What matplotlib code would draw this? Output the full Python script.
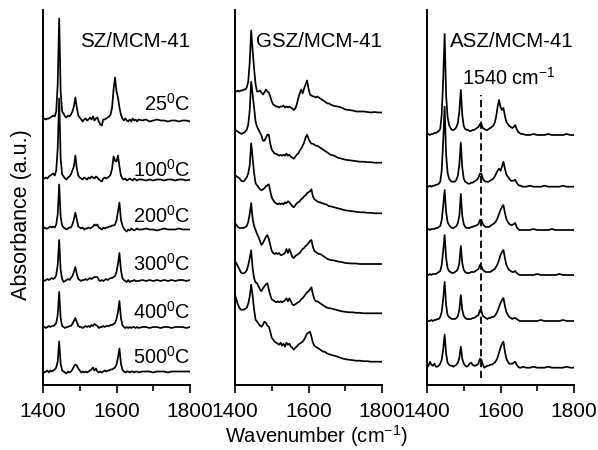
import matplotlib
matplotlib.use('Agg')
import matplotlib.pyplot as plt

plt.rcParams['font.family'] = ['Liberation Sans', 'DejaVu Sans']
plt.rcParams['mathtext.fontset'] = 'custom'
plt.rcParams['mathtext.rm'] = 'Liberation Sans'

# wavenumber sampling grid (cm-1)
wavenumber = list(range(1400, 1661, 4)) + list(range(1670, 1801, 10))

# ---------------- SZ/MCM-41 (heights above each trace baseline) ----------------
sz_25 = [0, 1, 0, 1, 1, 2, 3, 4, 3, 8,
         35, 101, 28, 8, 6, 3, 2, 4, 3, 5,
         8, 13, 22, 12, 4, 2, 0, -2, 0, 1,
         -1, 0, 2, 0, 3, -1, 1, 2, -2, -5,
         -6, 0, 0, 1, 2, 3, 5, 12, 30, 42,
         28, 22, 12, 5, 1, -1, 1, -1, -2, 0,
         -2, 1, -1, 0, -2, 0,
         -1, 0, -2, -1, 0, -1, -1, -2, -1, -1, -2, -1, -1, -2]
sz_100 = [0, 0, 1, 0, 2, 3, 4, 5, 3, 8,
          30, 80, 20, 4, 2, 0, -1, 1, 2, 4,
          8, 12, 23, 10, 3, 1, 0, -1, 1, 0,
          -1, 1, 0, 2, 1, 0, 2, 1, -1, -2,
          -3, 0, 1, 0, 1, 2, 4, 10, 22, 18,
          17, 23, 12, 3, 0, -1, 0, -2, -1, 0,
          -1, -2, 0, -1, -2, -1,
          -1, -2, -1, -2, -1, -1, -2, -1, -1, -2, -1, -1, -2, -1]
sz_200 = [0, 1, 0, 0, 1, 2, 1, 2, 1, 4,
          14, 44, 12, 3, 1, 0, -1, 0, 1, 1,
          4, 9, 16, 9, 2, 1, 0, 1, -1, 0,
          0, 1, 0, 1, 2, 4, 3, 4, 1, 0,
          -1, 1, 0, 1, 1, 2, 2, 3, 3, 4,
          8, 17, 26, 9, 3, 0, -2, -3, -1, -2,
          0, -1, -2, -1, 0, -1,
          -1, 0, -1, -1, -2, -1, 0, -1, -1, -1, 0, -1, -1, -1]
sz_300 = [0, -1, 0, 1, 0, 1, 2, 1, 2, 5,
          15, 40, 10, 1, -2, -1, 0, 1, 0, 2,
          4, 8, 13, 6, 1, 0, -1, 0, 0, 1,
          0, 1, 2, 1, 2, 3, 3, 3, 0, -1,
          0, -1, 0, 1, 0, 1, 2, 2, 3, 4,
          8, 16, 27, 10, 2, 0, -1, -2, 0, -2,
          -1, -1, 0, -1, -1, -1,
          0, -1, 0, -1, 0, -1, 0, -1, 0, -1, 0, 0, -1, 0]
sz_400 = [0, 0, -1, 0, 1, 0, 1, 1, 2, 4,
          12, 35, 9, 1, 0, -1, 0, 0, 1, 1,
          3, 6, 9, 5, 1, 0, 0, -1, 0, 1,
          0, 1, 0, 2, 1, 3, 2, 1, -1, 0,
          0, 1, 0, 1, 1, 1, 2, 2, 3, 4,
          8, 15, 26, 9, 2, 0, -1, 0, -1, 0,
          -1, 0, 0, -1, 0, -1,
          0, 0, -1, 0, 0, -1, 0, 0, -1, 0, 0, 0, -1, 0]
sz_500 = [0, -1, 0, 1, -1, 1, 0, 1, 2, 4,
          10, 30, 8, 1, 0, -1, -2, 0, -1, 0,
          2, 5, 7, 6, 3, 1, -1, 0, -1, 0,
          -1, 0, 1, 2, 4, 1, 3, 0, -1, 0,
          -1, 0, 1, 0, 1, 1, 2, 2, 3, 4,
          7, 14, 23, 8, 2, 0, -1, 0, 0, -1,
          0, 0, -1, 0, 0, -1,
          0, 0, 0, -1, 0, 0, 0, -1, 0, 0, 0, 0, 0, 0]
sz_baselines = [265.5, 206.5, 156.5, 105, 58, 13.5]

# ---------------- GSZ/MCM-41 (heights above the 1800 cm-1 level) ----------------
gsz_25 = [21, 21, 22, 21, 22, 22, 23, 23, 25, 31,
          50, 82, 62, 44, 28, 21, 21, 22, 20, 18,
          20, 23, 21, 20, 16, 11, 8, 7, 6, 6,
          5, 6, 6, 7, 5, 6, 5, 6, 5, 4,
          2.5, 4, 8, 14, 19, 23, 19, 24, 28, 32,
          24, 18, 17, 16, 16, 15, 16, 15, 14, 13,
          12, 11, 10, 9, 9, 8,
          6.5, 6, 5, 3, 2.5, 2, 1, 1, 1, 0.5, 0, 0.5, 0, 0]
gsz_100 = [33, 32, 31, 30, 29, 29, 30, 31, 33, 38,
           52, 81, 68, 55, 41, 36, 33, 30, 27, 22,
           22, 25, 28, 28, 19, 13, 11, 9, 9, 8,
           7, 8, 7, 8, 7, 9, 7, 8, 6, 5,
           4, 6, 8, 9, 12, 14, 17, 20, 25, 28,
           24, 21, 19, 19, 18, 17, 17, 16, 15, 14,
           13, 12, 11, 10, 9, 8,
           7, 5, 4, 3, 2.5, 2, 1.5, 1, 1, 0.5, 0.5, 0, 0, 0]
gsz_200 = [38, 37, 36, 35, 33, 32, 32, 34, 36, 40,
           48, 70, 55, 40, 30, 28, 26, 24, 23, 24,
           25, 27, 28, 29, 22, 16, 13, 11, 10, 9,
           10, 9, 10, 9, 11, 10, 12, 11, 9, 7,
           6, 8, 10, 11, 12, 14, 15, 17, 18, 20,
           21, 22, 24, 17, 14, 13, 12, 11, 11, 10,
           10, 9, 9, 8, 7, 7,
           6, 5, 4, 3, 2.5, 2, 1.5, 1, 1, 0.5, 0.5, 0, 0, 0]
gsz_300 = [41, 39, 37, 36, 36, 36, 36, 37, 38, 42,
           50, 61, 45, 38, 34, 30, 27, 23, 19, 21,
           24, 27, 29, 25, 19, 13, 11, 10, 11, 10,
           11, 9, 9, 10, 11, 15, 11, 15, 11, 7,
           6, 8, 9, 10, 11, 13, 15, 16, 18, 19,
           21, 23, 24, 17, 13, 12, 11, 10, 10, 9,
           8, 7, 6, 5, 4.5, 4,
           3.5, 2.5, 2, 1, 0.7, 0.5, 0.5, 0, 0, 0, 0, 0, 0, 0]
gsz_400 = [52, 50, 47, 44, 41, 40, 40, 41, 43, 48,
           55, 63, 45, 35, 31, 30, 27, 24, 22, 25,
           27, 29, 30, 24, 18, 14, 13, 12, 11, 12,
           11, 12, 11, 12, 13, 15, 12, 15, 12, 9,
           8, 9, 10, 11, 12, 14, 15, 17, 19, 21,
           22, 24, 26, 19, 14, 12, 12, 11, 10, 9,
           8, 7, 6, 5.5, 5, 5,
           4, 3, 2, 1.5, 1, 1, 0.5, 0.5, 0, 0, 0, 0, 0, 0]
gsz_500 = [67, 62, 57, 54, 52, 52, 52, 53, 54, 58,
           65, 77, 66, 52, 42, 40, 38, 36, 35, 37,
           40, 39, 36, 35, 30, 24, 22, 20, 19, 18,
           17, 19, 16, 18, 15, 19, 17, 18, 15, 14,
           12, 14, 15, 17, 18, 19, 20, 22, 25, 28,
           29, 30, 25, 19, 16, 15, 14, 13, 12, 11,
           10, 10, 9, 8, 7.5, 7,
           6, 5, 3.5, 2.5, 2, 1.5, 1, 1, 0.5, 0.5, 0, 0, 0, 0]
gsz_baselines = [272.5, 222.3, 171.7, 121, 71.7, 23.3]

# ---------------- ASZ/MCM-41 (heights above each trace baseline) ----------------
asz_25 = [0, 1, 0, 1, 1, 2, 2, 3, 4, 6,
          20, 55, 101, 40, 18, 10, 7, 5, 5, 6,
          8, 12, 24, 45, 20, 9, 6, 5, 5, 4,
          4, 5, 5, 6, 7, 8, 11, 11, 7, 6,
          5, 5, 6, 7, 8, 9, 12, 18, 28, 35,
          28, 25, 27, 19, 13, 11, 9, 8, 7, 8,
          10, 6, 3, 2, 1, 1,
          0, 0, 1, 0, 0, 0, 1, 0, 0, 0, 0, 1, 0, 0]
asz_100 = [0, 0, 1, 0, 1, 1, 2, 2, 3, 5,
           16, 45, 80, 32, 14, 8, 6, 5, 5, 5,
           7, 11, 22, 44, 19, 8, 5, 4, 3, 3,
           4, 4, 5, 6, 7, 9, 13, 13, 8, 6,
           5, 5, 5, 6, 7, 8, 10, 13, 16, 18,
           16, 20, 25, 18, 12, 10, 8, 6, 6, 6,
           7, 4, 2, 1, 1, 0,
           0, 1, 0, 0, 0, 1, 0, 0, 0, 0, 1, 0, 0, 0]
asz_200 = [0, 1, 0, 1, 1, 1, 2, 2, 3, 4,
           10, 24, 40, 18, 8, 5, 3, 2, 2, 3,
           4, 7, 14, 36, 14, 6, 3, 2, 2, 2,
           3, 3, 4, 4, 5, 6, 10, 10, 6, 4,
           3, 3, 3, 4, 5, 6, 7, 9, 12, 16,
           20, 23, 25, 17, 11, 8, 6, 5, 5, 6,
           7, 3, 1, 0, 0, 0,
           0, 0, 1, 0, 0, 0, 0, 1, 0, 0, 0, 0, 0, 0]
asz_300 = [0, 0, 1, 0, 1, 1, 1, 2, 3, 4,
           10, 24, 40, 17, 7, 4, 3, 2, 2, 3,
           4, 6, 12, 29, 12, 5, 3, 2, 2, 2,
           3, 3, 3, 4, 5, 6, 10, 9, 5, 4,
           3, 3, 3, 3, 4, 5, 6, 8, 11, 15,
           20, 23, 25, 17, 10, 7, 5, 4, 3, 3,
           4, 2, 1, 0, 0, 0,
           0, 0, 0, 1, 0, 0, 0, 0, 0, 1, 0, 0, 0, 0]
asz_400 = [0, 0, 0, 1, 0, 1, 1, 2, 2, 4,
           9, 22, 39, 16, 6, 4, 3, 2, 2, 2,
           3, 5, 11, 26, 11, 5, 3, 2, 2, 2,
           2, 3, 3, 4, 5, 6, 11, 10, 5, 4,
           3, 2, 3, 3, 4, 4, 5, 7, 10, 14,
           18, 21, 23, 15, 9, 6, 4, 3, 2, 3,
           3, 2, 1, 0, 0, 0,
           0, 0, 0, 0, 1, 0, 0, 0, 0, 0, 1, 0, 0, 0]
asz_500 = [0, 2, 6, 3, 2, 4, 1, 1, 2, 4,
           8, 18, 33, 14, 5, 3, 2, 2, 1, 2,
           3, 5, 10, 21, 9, 4, 2, 1, 2, 4,
           5, 3, 2, 2, 3, 4, 9, 8, 3, 0,
           1, 2, 2, 3, 3, 4, 5, 7, 10, 15,
           20, 24, 26, 16, 9, 6, 4, 4, 4, 5,
           6, 3, 1, 0, 0, 1,
           0, 0, 1, 0, 0, 0, 1, 0, 0, 0, 0, 1, 0, 0]
asz_baselines = [250, 198.3, 155, 110, 64, 17.3]

temperatures = ['25', '100', '200', '300', '400', '500']
temp_label_y = [281, 215, 169, 121, 73, 28]
sample_names = ['SZ/MCM-41', 'GSZ/MCM-41', 'ASZ/MCM-41']
marker_wavenumber = 1546
marker_label = '1540 cm$^{-1}$'

panels = [
    ([sz_25, sz_100, sz_200, sz_300, sz_400, sz_500], sz_baselines),
    ([gsz_25, gsz_100, gsz_200, gsz_300, gsz_400, gsz_500], gsz_baselines),
    ([asz_25, asz_100, asz_200, asz_300, asz_400, asz_500], asz_baselines),
]

W, H = 598, 450
fig = plt.figure(figsize=(W / 100, H / 100), dpi=100)
lefts = [43, 235, 427]
axes = []
for i, (traces, bases) in enumerate(panels):
    ax = fig.add_axes([lefts[i] / W, 65 / H, 147 / W, 375 / H])
    axes.append(ax)
    for tr, b in zip(traces, bases):
        ax.plot(wavenumber, [v + b for v in tr], color='black', lw=1.25)
    ax.set_xlim(1400, 1800)
    ax.set_ylim(0, 375)
    for s in ['top', 'right']:
        ax.spines[s].set_visible(False)
    ax.spines['left'].set_linewidth(1.4)
    ax.spines['bottom'].set_linewidth(1.4)
    ax.set_yticks([])
    ax.set_xticks([1400, 1600, 1800])
    ax.set_xticks([1500, 1700], minor=True)
    ax.tick_params(axis='x', which='major', direction='out', length=6, width=1.2,
                   labelsize=15, pad=6)
    ax.tick_params(axis='x', which='minor', direction='out', length=4.5, width=1.2)
    ax.text(1800, 343, sample_names[i], ha='right', va='center', fontsize=14.8)

# temperature labels in first panel
for t, y in zip(temperatures, temp_label_y):
    axes[0].text(1800, y, r'$\mathregular{%s^0C}$' % t, ha='right', va='center', fontsize=14.3)

# dashed marker line in ASZ panel
axes[2].plot([marker_wavenumber, marker_wavenumber], [7, 290], color='black',
             lw=1.3, dashes=(4, 2))
axes[2].text(1495, 307, marker_label, ha='left', va='center', fontsize=14.3)

fig.text(316 / W, 1 - 436 / H, r'Wavenumber (cm$^{-1}$)', ha='center', va='center', fontsize=14.5)
fig.text(22 / W, 1 - 215 / H, 'Absorbance (a.u.)', ha='center', va='center',
         rotation=90, fontsize=15.5)

fig.savefig('out.png', dpi=100)
